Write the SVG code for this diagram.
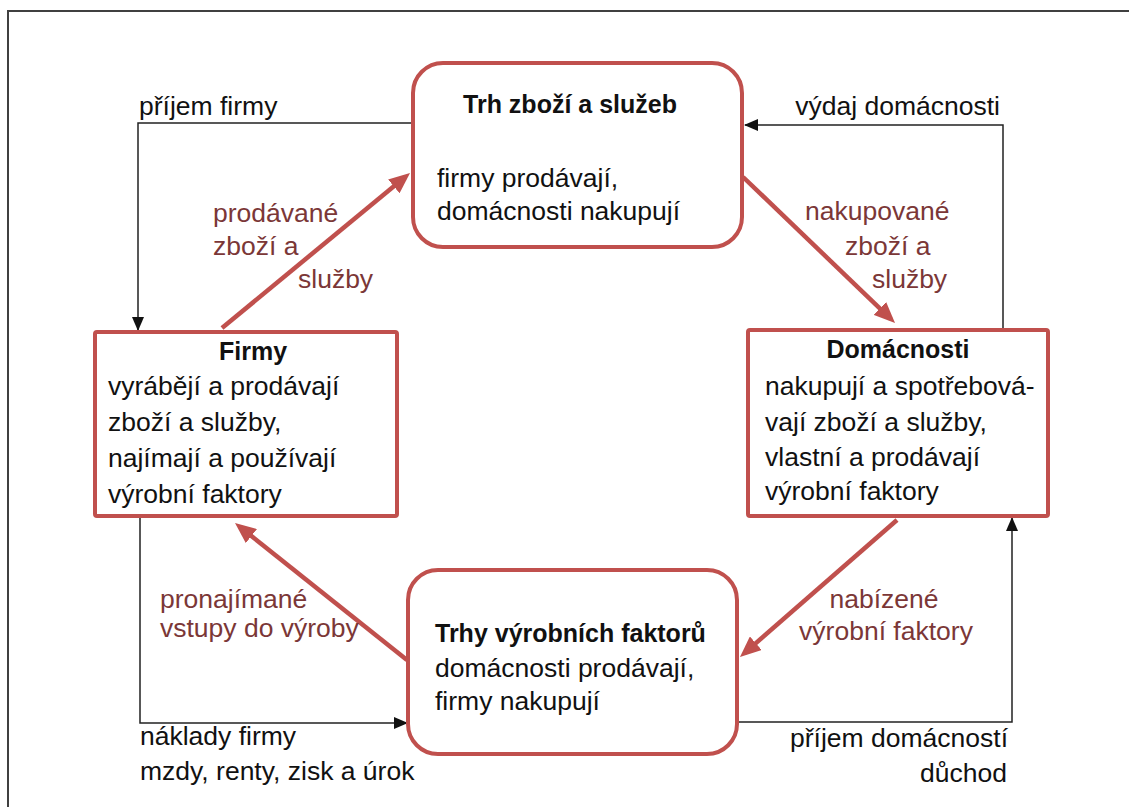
<svg xmlns="http://www.w3.org/2000/svg" width="1129" height="807" viewBox="0 0 1129 807">
<defs>
<style>
.t{font-family:"Liberation Sans",Arial,sans-serif;font-size:26.5px;fill:#111}
.b{font-weight:bold;font-size:25px}
.r{fill:#7b3737}
.box{fill:#fff;stroke:#c0504d;stroke-width:4}
.k{fill:none;stroke:#222;stroke-width:1.5}
.red{fill:none;stroke:#c0504d;stroke-width:4.5}
</style>
<marker id="ak" markerUnits="userSpaceOnUse" markerWidth="14" markerHeight="12" refX="13" refY="6" orient="auto">
<path d="M0,0 L14,6 L0,12 z" fill="#111"/>
</marker>
<marker id="ar" markerUnits="userSpaceOnUse" markerWidth="22" markerHeight="18" refX="15" refY="9" orient="auto">
<path d="M0,0 L21,9 L0,18 z" fill="#c0504d"/>
</marker>
</defs>
<rect width="1129" height="807" fill="#fff"/>
<path d="M8,807 V11 H1129" fill="none" stroke="#404040" stroke-width="2"/>

<g id="connectors">
<path class="k" d="M413,123 H138 V330" marker-end="url(#ak)"/>
<path class="k" d="M1003,330 V125 H745" marker-end="url(#ak)"/>
<path class="k" d="M140,518 V723 H407" marker-end="url(#ak)"/>
<path class="k" d="M737,722 H1012 V518" marker-end="url(#ak)"/>
<line class="red" x1="222" y1="328" x2="405.4" y2="176.8" marker-end="url(#ar)"/>
<line class="red" x1="743" y1="177" x2="890.7" y2="318.8" marker-end="url(#ar)"/>
<line class="red" x1="897" y1="520" x2="744.5" y2="653.1" marker-end="url(#ar)"/>
<line class="red" x1="407" y1="660" x2="239.7" y2="526.7" marker-end="url(#ar)"/>
<text class="t" x="139" y="115">příjem firmy</text>
<text class="t" x="1000" y="115" text-anchor="end">výdaj domácnosti</text>
<text class="t" x="140" y="745">náklady firmy</text>
<text class="t" x="140" y="780">mzdy, renty, zisk a úrok</text>
<text class="t" x="1008" y="747" text-anchor="end">příjem domácností</text>
<text class="t" x="1007" y="782" text-anchor="end">důchod</text>
<text class="t r" x="213" y="222">prodávané</text>
<text class="t r" x="213" y="255">zboží a</text>
<text class="t r" x="298" y="288">služby</text>
<text class="t r" x="805" y="220">nakupované</text>
<text class="t r" x="845" y="255">zboží a</text>
<text class="t r" x="872" y="288">služby</text>
<text class="t r" x="160" y="608">pronajímané</text>
<text class="t r" x="160" y="637">vstupy do výroby</text>
<text class="t r" x="884" y="608" text-anchor="middle">nabízené</text>
<text class="t r" x="886" y="640" text-anchor="middle">výrobní faktory</text>
</g>

<g id="trh-zbozi">
<rect class="box" x="413" y="63" width="329" height="184" rx="30"/>
<text class="t b" x="570" y="113" text-anchor="middle">Trh zboží a služeb</text>
<text class="t" x="437" y="187">firmy prodávají,</text>
<text class="t" x="437" y="220">domácnosti nakupují</text>
</g>

<g id="firmy">
<rect class="box" x="95" y="332" width="302" height="184" rx="2"/>
<text class="t b" x="253" y="360" text-anchor="middle">Firmy</text>
<text class="t" x="108" y="395">vyrábějí a prodávají</text>
<text class="t" x="108" y="431">zboží a služby,</text>
<text class="t" x="108" y="467">najímají a používají</text>
<text class="t" x="108" y="503">výrobní faktory</text>
</g>

<g id="domacnosti">
<rect class="box" x="748" y="330" width="300" height="186" rx="2"/>
<text class="t b" x="898" y="358" text-anchor="middle">Domácnosti</text>
<text class="t" x="765" y="395">nakupují a spotřebová-</text>
<text class="t" x="765" y="431">vají zboží a služby,</text>
<text class="t" x="765" y="466">vlastní a prodávají</text>
<text class="t" x="765" y="500">výrobní faktory</text>
</g>

<g id="trhy-vyrobnich-faktoru">
<rect class="box" x="408" y="570" width="329" height="184" rx="30"/>
<text class="t b" x="435" y="642">Trhy výrobních faktorů</text>
<text class="t" x="435" y="677">domácnosti prodávají,</text>
<text class="t" x="435" y="710">firmy nakupují</text>
</g>
</svg>
